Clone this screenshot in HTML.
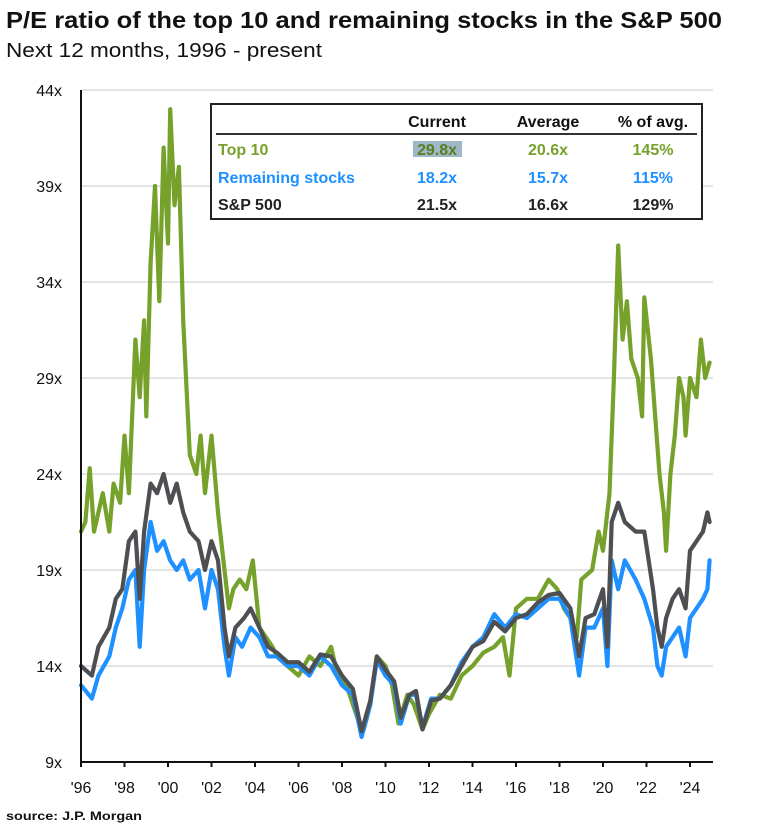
<!DOCTYPE html>
<html><head><meta charset="utf-8">
<style>
body{margin:0;background:#fff;font-family:"Liberation Sans",Arial,sans-serif;}
svg text{font-family:"Liberation Sans",Arial,sans-serif;}
</style></head>
<body>
<svg id="chart" width="765" height="828" viewBox="0 0 765 828" xmlns="http://www.w3.org/2000/svg">
<text x="6" y="28" font-size="23" font-weight="bold" fill="#111" textLength="716" lengthAdjust="spacingAndGlyphs">P/E ratio of the top 10 and remaining stocks in the S&amp;P 500</text>
<text x="6" y="57" font-size="20" fill="#111" textLength="316" lengthAdjust="spacingAndGlyphs">Next 12 months, 1996 - present</text>
<g id="grid"></g>
<g id="series"></g>
<g id="axes"></g>
<g>
<rect x="211" y="104" width="491" height="115" fill="#fff" stroke="#222" stroke-width="2"/>
<line x1="216" y1="134" x2="697" y2="134" stroke="#333" stroke-width="2"/>
<g font-size="16" font-weight="bold" text-anchor="middle">
<text x="437" y="127" fill="#111">Current</text>
<text x="548" y="127" fill="#111">Average</text>
<text x="653" y="127" fill="#111">% of avg.</text>
<rect x="413" y="141" width="49" height="16" fill="#9fb8c8"/>
<text x="218" y="155" text-anchor="start" fill="#76a12a">Top 10</text>
<text x="437" y="155" fill="#5a7d1e">29.8x</text>
<text x="548" y="155" fill="#76a12a">20.6x</text>
<text x="653" y="155" fill="#76a12a">145%</text>
<text x="218" y="183" text-anchor="start" fill="#1e90ff">Remaining stocks</text>
<text x="437" y="183" fill="#1e90ff">18.2x</text>
<text x="548" y="183" fill="#1e90ff">15.7x</text>
<text x="653" y="183" fill="#1e90ff">115%</text>
<text x="218" y="210" text-anchor="start" fill="#222">S&amp;P 500</text>
<text x="437" y="210" fill="#222">21.5x</text>
<text x="548" y="210" fill="#222">16.6x</text>
<text x="653" y="210" fill="#222">129%</text>
</g></g>
<text x="6" y="820" font-size="12" font-weight="bold" fill="#111" textLength="136" lengthAdjust="spacingAndGlyphs">source: J.P. Morgan</text>
</svg>
<script>
const yTicks=[9,14,19,24,29,34,39,44];
const xTickYears=[1996,1998,2000,2002,2004,2006,2008,2010,2012,2014,2016,2018,2020,2022,2024];
const xTickLabels=["'96","'98","'00","'02","'04","'06","'08","'10","'12","'14","'16","'18","'20","'22","'24"];
const top10Dates=[1996,1996.2,1996.4,1996.6,1996.8,1997,1997.3,1997.5,1997.8,1998,1998.2,1998.5,1998.7,1998.9,1999,1999.2,1999.4,1999.6,1999.8,2000,2000.1,2000.3,2000.5,2000.7,2001,2001.3,2001.5,2001.7,2002,2002.3,2002.6,2002.8,2003,2003.3,2003.6,2003.9,2004.2,2004.5,2004.8,2005,2005.5,2006,2006.5,2007,2007.5,2007.8,2008.2,2008.5,2008.8,2009,2009.3,2009.6,2010,2010.3,2010.6,2011,2011.3,2011.7,2012,2012.5,2013,2013.5,2014,2014.5,2015,2015.4,2015.7,2016,2016.5,2017,2017.5,2017.9,2018.2,2018.5,2018.8,2019,2019.5,2019.8,2020,2020.3,2020.5,2020.7,2020.9,2021.1,2021.3,2021.6,2021.8,2021.9,2022.2,2022.4,2022.6,2022.8,2022.9,2023.1,2023.3,2023.5,2023.7,2023.8,2024,2024.3,2024.5,2024.7,2024.9];
const top10Values=[21,21.5,24.3,21,22,23,21,23.5,22.5,26,23,31,28,32,27,35,39,33,41,36,43,38,40,32,25,24,26,23,26,22,19,17,18,18.5,18,19.5,16,15.5,15,14.5,14,13.5,14.5,14,15,13.5,13,12,11,10.7,12,14.5,14,13,11,12.5,12,10.7,11.5,12.5,12.3,13.5,14,14.7,15,15.5,13.5,17,17.5,17.5,18.5,18,17,16.5,15.5,18.5,19,21,20,23,29,35.9,31,33,30,29,27,33.2,30,27,24,22,20,24,26,29,28,26,29,28,31,29,29.8];
const remDates=[1996,1996.5,1996.8,1997.3,1997.6,1997.9,1998.2,1998.5,1998.7,1998.9,1999.2,1999.5,1999.8,2000.1,2000.4,2000.7,2001,2001.4,2001.7,2002,2002.3,2002.6,2002.8,2003.1,2003.4,2003.8,2004.2,2004.6,2005,2005.5,2006,2006.5,2007,2007.5,2008,2008.5,2008.9,2009.3,2009.6,2010,2010.4,2010.7,2011.1,2011.4,2011.7,2012.1,2012.5,2013,2013.5,2014,2014.5,2015,2015.5,2016,2016.5,2017,2017.5,2018,2018.5,2018.9,2019.2,2019.6,2020,2020.2,2020.4,2020.7,2021,2021.5,2021.9,2022.3,2022.5,2022.7,2022.9,2023.2,2023.5,2023.8,2024,2024.3,2024.6,2024.8,2024.9];
const remValues=[13,12.3,13.5,14.5,16,17,18.5,19,15,19,21.5,20,20.5,19.5,19,19.5,18.5,19,17,19,18,15,13.5,15.5,15,16,15.5,14.5,14.5,14,14,13.5,14.5,14,13,12.5,10.3,12,14.3,13.5,13,11,12.5,12.5,10.8,12.3,12.3,13,14.2,15,15.5,16.7,16,16.7,16.5,17,17.5,17.5,16.5,13.5,16,16,17,14,19.5,18,19.5,18.5,17.5,16,14,13.5,15,15.5,16,14.5,16.5,17,17.5,18,19.5];
const spDates=[1996,1996.5,1996.8,1997.3,1997.6,1997.9,1998.2,1998.5,1998.7,1998.9,1999.2,1999.5,1999.8,2000.1,2000.4,2000.7,2001,2001.4,2001.7,2002,2002.3,2002.6,2002.8,2003.1,2003.5,2003.8,2004.2,2004.6,2005,2005.5,2006,2006.5,2007,2007.5,2008,2008.5,2008.9,2009.3,2009.6,2010,2010.4,2010.7,2011.1,2011.4,2011.7,2012.1,2012.5,2013,2013.5,2014,2014.5,2015,2015.5,2016,2016.5,2017,2017.5,2018,2018.5,2018.9,2019.2,2019.6,2020,2020.2,2020.4,2020.7,2021,2021.5,2021.9,2022.3,2022.5,2022.7,2022.9,2023.2,2023.5,2023.8,2024,2024.3,2024.6,2024.8,2024.9];
const spValues=[14,13.5,15,16,17.5,18,20.5,21,17.5,21,23.5,23,24,22.5,23.5,22,21,20.5,19,20.5,19.5,16,14.5,16,16.5,17,16,15,14.7,14.2,14.2,13.7,14.6,14.5,13.5,12.8,10.6,12.2,14.5,13.8,13.2,11.3,12.5,12.7,10.7,12.2,12.3,13,14,15,15.3,16.3,15.8,16.5,16.7,17.3,17.7,17.8,17,14.5,16.5,16.7,18,15,21.5,22.5,21.5,21,21,18,16,15,16.5,17.5,18,17,20,20.5,21,22,21.5];

const NS="http://www.w3.org/2000/svg";
const X0=81,PX_PER_YEAR=21.75,Y0=762,PX_PER_UNIT=19.2,XEND=713;
function xScale(yr){return X0+(yr-1996)*PX_PER_YEAR;}
function yScale(v){return Y0-(v-9)*PX_PER_UNIT;}
function mk(tag,attrs,parent){const e=document.createElementNS(NS,tag);for(const k in attrs)e.setAttribute(k,attrs[k]);parent.appendChild(e);return e;}
const grid=document.getElementById('grid'),axes=document.getElementById('axes'),series=document.getElementById('series');
yTicks.forEach(v=>{
  if(v>9){const gl=mk('line',{x1:X0,x2:XEND,y1:yScale(v),y2:yScale(v),stroke:'#dcdcdc','stroke-width':1.5},grid);
  
  }
  const t=mk('text',{x:62,y:yScale(v)+6,'font-size':16,'text-anchor':'end',fill:'#111'},axes);
  t.textContent=v+'x';
  
  
});
const ya=mk('line',{x1:X0,x2:X0,y1:yScale(44),y2:Y0,stroke:'#111','stroke-width':2},axes);


const xa=mk('line',{x1:X0,x2:XEND,y1:Y0,y2:Y0,stroke:'#111','stroke-width':2},axes);


xTickYears.forEach((yr,i)=>{
  mk('line',{x1:xScale(yr),x2:xScale(yr),y1:Y0,y2:Y0+5,stroke:'#111','stroke-width':2},axes);
  const t=mk('text',{x:xScale(yr),y:Y0+31,'font-size':16,'text-anchor':'middle',fill:'#111'},axes);
  t.textContent=xTickLabels[i];
  
  
});
function drawLine(dates,vals,color,name){
  const pts=dates.map((d,i)=>xScale(d).toFixed(1)+','+yScale(vals[i]).toFixed(1)).join(' ');
  const p=mk('polyline',{points:pts,fill:'none',stroke:color,'stroke-width':4.2,'stroke-linejoin':'round','stroke-linecap':'round'},series);
  
  
}
drawLine(top10Dates,top10Values,'#76a12a','top10-line');
drawLine(remDates,remValues,'#1e90ff','remaining-stocks-line');
drawLine(spDates,spValues,'#4d4f53','sp500-line');
</script>
</body></html>
